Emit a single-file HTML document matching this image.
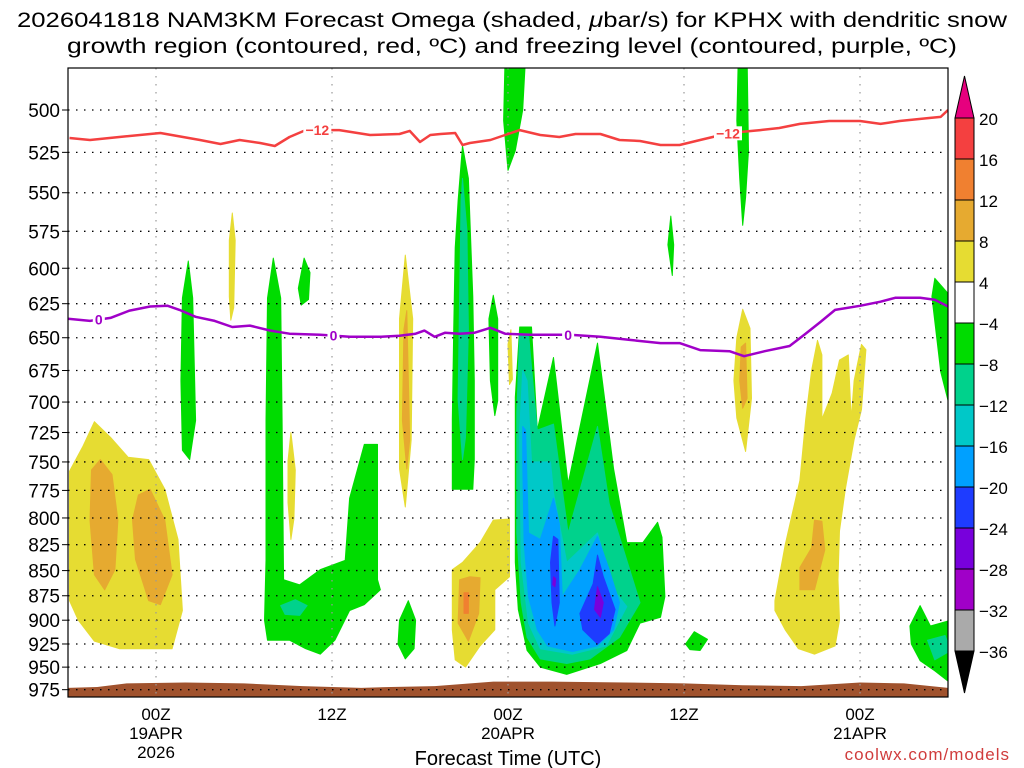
<!DOCTYPE html>
<html><head><meta charset="utf-8"><style>
html,body{margin:0;padding:0;background:#fff;}
svg{display:block;font-family:"Liberation Sans",sans-serif;}
</style></head><body>
<svg id="chart" width="1024" height="768" viewBox="0 0 1024 768">
<g>
<text x="512" y="27" text-anchor="middle" font-size="21" textLength="990" lengthAdjust="spacingAndGlyphs">2026041818 NAM3KM Forecast Omega (shaded, <tspan font-style="italic">μ</tspan>bar/s) for KPHX with dendritic snow</text>
<text x="512" y="53" text-anchor="middle" font-size="21" textLength="890" lengthAdjust="spacingAndGlyphs">growth region (contoured, red, ºC) and freezing level (contoured, purple, ºC)</text>
</g>
<defs><clipPath id="plotclip"><rect x="68" y="68" width="880" height="629"/></clipPath></defs>
<g id="shading" clip-path="url(#plotclip)"></g>
<g id="grid"></g>
<g id="lines" clip-path="url(#plotclip)"></g>
<rect x="68" y="68" width="880" height="629" fill="none" stroke="#000" stroke-width="1.2"/>
<g id="yaxis"></g>
<g id="xaxis"></g>
<text x="508" y="765" text-anchor="middle" font-size="20">Forecast Time (UTC)</text>
<text x="1010" y="760" text-anchor="end" font-size="17" fill="#d03c3c" letter-spacing="1">coolwx.com/models</text>
<g id="cbar"></g>
</svg>
<script>
const levelColors = ["#00dc00","#00d28c","#00c8c8","#00a0ff","#1e3cff","#7800dc","#a000c8","#e6dc32","#e6aa30","#f08030"];
const cbarLabels = ["20","16","12","8","4","−4","−8","−12","−16","−20","−24","−28","−32","−36"];
const cbarColors = ["#f44040","#f08030","#e6aa30","#e6dc32","#ffffff","#00dc00","#00d28c","#00c8c8","#00a0ff","#1e3cff","#7800dc","#a000c8","#aaaaaa"];
const pressureTicks = [500,525,550,575,600,625,650,675,700,725,750,775,800,825,850,875,900,925,950,975];
const timeTickHours = [6,18,30,42,54];
const timeTickLabels = [["00Z","19APR","2026"],["12Z"],["00Z","20APR"],["12Z"],["00Z","21APR"]];

const redHours = [0.1,1.5,3.5,6.3,9.0,10.4,11.7,13.1,14.1,15.1,16.2,18.5,20.6,22.6,23.3,24.0,24.7,25.4,26.4,26.9,27.4,28.8,29.8,30.8,32.2,33.5,34.6,36.3,37.6,39.0,40.4,41.7,43.1,45.1,47.2,48.5,49.9,51.9,54.0,55.4,56.7,58.8,59.5,60];
const redPress = [516.4,517.6,515.8,513.4,517.6,520.0,517.6,519.4,521.2,515.8,511.7,511.7,514.6,514.0,512.2,518.8,514.6,514.0,513.4,520.6,519.4,517.6,514.6,511.7,514.6,515.8,514.0,514.0,517.6,518.2,520.6,520.6,517.6,513.4,511.7,510.5,508.1,506.4,506.4,508.1,506.4,504.6,504.0,500];
const purpleHours = [0,1.5,2.9,4.2,5.6,6.8,7.6,8.7,10.0,11.2,12.4,13.8,15.1,17.2,19.2,21.3,22.6,23.7,24.3,25.0,25.7,26.7,27.7,28.8,29.8,31.5,34.2,36.3,38.3,40.4,41.7,43.1,45.1,46.1,47.5,49.2,50.2,51.3,52.3,54.0,55.4,56.4,58.1,59.1,60];
const purplePress = [636,637.5,635.3,630,627,626.5,629.5,634.5,637.5,642,641,644.7,647,647.8,649.3,649.3,648.5,647,644.7,649.3,646.3,647,646.3,642.6,647,647.8,647.8,649.3,651.6,654,654,659.3,660.2,664,660.2,656.2,647.8,638.3,629.5,626.5,623.6,620.8,620.8,622.2,627];
const redLabelHours = [17.0,45.0];
const purpleLabelHours = [2.1,18.1,34.1];
const surfaceHours = [0,2,4,8,12,16,20,22,25,29,33,38,42,46,50,54,57,60];
const surfacePress = [973,972,968,967,968,971,973,972,971,966,966,967,968,970,971,967,968,973];

const featLeftYellow = [7,[[0.1,758],[1.0,737],[1.8,716],[2.9,729],[4.1,746],[5.5,748],[6.6,774],[7.5,820],[7.8,890],[7.1,930],[3.5,930],[1.8,922],[0.7,900],[0.1,880]]];
const featLeftOrangeA = [8,[[1.6,757],[2.2,748],[3.0,761],[3.4,802],[3.2,849],[2.5,869],[1.8,854],[1.5,802]]];
const featLeftOrangeB = [8,[[4.8,779],[5.6,774],[6.6,802],[7.1,854],[6.3,884],[5.5,880],[4.6,839],[4.4,802]]];
const featYellowThin1 = [7,[[11.0,581],[11.2,563],[11.4,581],[11.3,628],[11.1,637],[11.0,620]]];
const featGreenThin1 = [0,[[7.8,621],[8.2,595],[8.5,621],[8.7,715],[8.3,748],[7.8,740],[7.7,683]]];
const featYellowThin2 = [7,[[15.0,749],[15.2,725],[15.5,757],[15.4,801],[15.2,820],[15.0,786]]];
const featGreen12Z = [0,[[13.6,621],[14.0,593],[14.5,621],[14.6,715],[14.7,859],[15.8,864],[17.2,849],[18.9,840],[19.2,782],[20.2,735],[21.1,735],[21.1,859],[21.3,869],[20.2,884],[19.2,890],[18.2,921],[17.2,936],[16.2,930],[15.1,921],[13.6,921],[13.4,900],[13.5,840],[13.5,715]]];
const featTeal12Z = [1,[[14.5,885],[15.5,879],[16.3,885],[15.8,895],[14.8,894]]];
const featGreenSmall1 = [0,[[15.7,614],[16.1,593],[16.5,603],[16.4,622],[15.9,626]]];
const featGreenSmall2 = [0,[[22.6,900],[23.2,880],[23.7,900],[23.6,930],[23.0,941],[22.5,925]]];
const featYellowThin3 = [7,[[22.6,636],[23.0,591],[23.5,636],[23.4,731],[23.0,790],[22.6,756]]];
const featOrangeThin3 = [8,[[22.9,644],[23.1,630],[23.3,731],[23.1,756],[22.8,715]]];
const featYellow18Z = [7,[[26.2,849],[26.9,842],[28.1,823],[29.0,802],[30.1,801],[30.1,856],[29.1,869],[29.1,910],[28.1,927],[27.1,950],[26.4,942],[26.2,910]]];
const featGold18Z = [8,[[26.7,859],[27.4,856],[28.1,857],[28.0,893],[27.3,922],[26.6,903]]];
const featOrange18Z = [9,[[27.0,872],[27.3,872],[27.3,893],[27.0,893]]];
const featGreenColumn = [0,[[26.6,555],[26.9,521],[27.3,541],[27.6,620],[27.7,683],[27.7,748],[27.6,774],[26.2,774],[26.2,714],[26.3,644],[26.4,586]]];
const featTealColumn = [1,[[26.8,555],[26.9,541],[27.2,574],[27.3,644],[27.1,729],[26.9,748],[26.6,698],[26.7,620]]];
const featGreenThin2 = [0,[[28.7,636],[29.0,619],[29.3,636],[29.3,699],[29.1,711],[28.8,683]]];
const featGreenTop1 = [0,[[29.8,470],[31.2,470],[31.0,500],[30.5,524],[30.0,536],[29.7,506]]];
const featYellowThin4 = [7,[[30.0,655],[30.2,644],[30.3,682],[30.1,686]]];
const featBigGreen = [0,[[30.8,642],[31.6,642],[32.0,723],[33.1,665],[34.1,769],[36.1,654],[37.2,756],[38.1,823],[39.2,823],[40.2,804],[40.5,818],[40.7,876],[40.4,897],[39.0,903],[38.1,932],[36.3,946],[34.0,958],[32.2,950],[31.3,932],[30.7,889],[30.5,842],[30.5,696]]];
const featBigTeal = [1,[[30.8,647],[31.4,647],[32.0,723],[33.1,718],[34.1,814],[36.1,720],[36.9,787],[39.0,882],[37.6,918],[35.6,941],[34.0,946],[32.2,941],[31.3,918],[30.9,882],[30.6,814],[30.6,709]]];
const featBigCyan = [2,[[31.0,675],[31.3,683],[31.6,750],[32.9,750],[33.1,777],[34.0,842],[36.1,814],[37.2,869],[38.1,886],[36.7,927],[34.4,936],[32.2,930],[31.4,903],[30.9,842],[30.8,723]]];
const featBigSky = [3,[[31.0,720],[31.2,723],[31.4,814],[32.2,820],[33.1,782],[33.5,805],[33.7,876],[34.9,849],[36.1,817],[36.9,849],[37.6,882],[37.2,910],[36.1,927],[34.4,933],[32.7,927],[32.0,910],[31.4,876],[31.1,823],[31.0,750]]];
const featBlueA = [4,[[33.1,817],[33.4,820],[33.5,882],[33.2,906],[33.0,882],[32.9,842]]];
const featBlueB = [4,[[36.1,835],[36.5,856],[37.3,889],[36.9,914],[36.1,925],[35.1,910],[34.9,893],[35.8,863]]];
const featPurpleA = [5,[[33.1,856],[33.25,858],[33.2,866],[33.05,864]]];
const featPurpleB = [5,[[36.1,866],[36.5,882],[36.3,897],[35.9,889]]];
const featGreenSmall3 = [0,[[40.9,584],[41.1,565],[41.3,584],[41.2,605]]];
const featGreenSmall4 = [0,[[42.1,925],[42.7,912],[43.6,920],[43.1,932],[42.4,931]]];
const featGreenTop2 = [0,[[45.7,470],[46.3,470],[46.4,524],[46.2,553],[46.0,571],[45.8,541],[45.6,506]]];
const featYellow15Z = [7,[[45.6,650],[46.0,629],[46.5,643],[46.6,697],[46.2,741],[45.6,713],[45.4,683]]];
const featOrange15Z = [8,[[45.9,657],[46.2,654],[46.3,697],[46.0,705],[45.8,683]]];
const featRightYellow = [7,[[48.2,880],[48.9,825],[49.9,766],[50.3,714],[50.7,675],[51.1,652],[51.4,663],[51.4,714],[52.1,693],[52.6,667],[53.2,663],[53.4,714],[53.6,683],[54.1,655],[54.4,659],[54.1,706],[53.6,731],[53.0,774],[52.6,812],[52.5,859],[52.6,900],[52.3,927],[50.9,936],[49.8,930],[48.9,910],[48.2,890]]];
const featRightOrange = [8,[[50.9,802],[51.4,803],[51.6,830],[50.9,869],[49.9,869],[49.9,847],[50.7,828]]];
const featRightGreenTop = [0,[[58.9,620],[59.1,607],[60.2,620],[60.2,708],[59.5,676]]];
const featRightGreenBot = [0,[[57.4,906],[58.1,885],[58.8,906],[60.2,900],[60.2,968],[59.1,954],[58.1,943],[57.5,925]]];
const featRightTeal = [1,[[58.6,921],[59.8,916],[60.2,932],[59.1,942]]];

const features = [featLeftYellow,featLeftOrangeA,featLeftOrangeB,featYellowThin1,featGreenThin1,featYellowThin2,featGreen12Z,featTeal12Z,featGreenSmall1,featGreenSmall2,featYellowThin3,featOrangeThin3,featYellow18Z,featGold18Z,featOrange18Z,featGreenColumn,featTealColumn,featGreenThin2,featGreenTop1,featYellowThin4,featBigGreen,featBigTeal,featBigCyan,featBigSky,featBlueA,featBlueB,featPurpleA,featPurpleB,featGreenSmall3,featGreenSmall4,featGreenTop2,featYellow15Z,featOrange15Z,featRightYellow,featRightOrange,featRightGreenTop,featRightGreenBot,featRightTeal];

const NS = "http://www.w3.org/2000/svg";
const X = h => 68 + h * 880 / 60;
const Y = p => 110 + 868 * Math.log(p / 500);
function mk(tag, attrs, parent){const e=document.createElementNS(NS,tag);for(const k in attrs)e.setAttribute(k,attrs[k]);parent.appendChild(e);return e;}

const shading = document.getElementById("shading");
features.forEach((f,i)=>{
  const d = f[1].map((pt,j)=>(j?"L":"M")+X(pt[0]).toFixed(1)+","+Y(pt[1]).toFixed(1)).join(" ")+"Z";
  const el = mk("path",{d:d,fill:levelColors[f[0]],stroke:levelColors[f[0]],"stroke-width":"1","stroke-linejoin":"round"},shading);
  
  
});
{
  let d = "M"+X(surfaceHours[0])+",700";
  surfaceHours.forEach((h,i)=>{ d += " L"+X(h).toFixed(1)+","+Y(surfacePress[i]).toFixed(1); });
  d += " L"+X(surfaceHours[surfaceHours.length-1])+",700Z";
  const t = mk("path",{d:d,fill:"#a0522d"},shading);
  
  
}

const grid = document.getElementById("grid");
const yaxis = document.getElementById("yaxis");
pressureTicks.forEach(p=>{
  const y = Y(p);
  const gl = mk("line",{x1:68,x2:948,y1:y,y2:y,stroke:"#000","stroke-width":"1.3","stroke-dasharray":"1.5 6.5"},grid);
  
  
  const tk = mk("line",{x1:62,x2:68,y1:y,y2:y,stroke:"#000","stroke-width":"1"},yaxis);
  
  
  const tx = mk("text",{x:60,y:y+7,"text-anchor":"end","font-size":"19"},yaxis);
  tx.textContent = p;
  
  
});
const xaxis = document.getElementById("xaxis");
timeTickHours.forEach((h,i)=>{
  const x = X(h);
  const gl = mk("line",{x1:x,x2:x,y1:68,y2:697,stroke:"#999","stroke-width":"1.2","stroke-dasharray":"1.5 6.5"},grid);
  
  
  timeTickLabels[i].forEach((s,j)=>{
    const tx = mk("text",{x:x,y:720+j*19,"text-anchor":"middle","font-size":"17"},xaxis);
    tx.textContent = s;
    
    
  });
});

const lines = document.getElementById("lines");
function contour(hours, press, color, name){
  const d = hours.map((h,i)=>(i?"L":"M")+X(h).toFixed(1)+","+Y(press[i]).toFixed(1)).join(" ");
  const el = mk("path",{d:d,fill:"none",stroke:color,"stroke-width":"2.5","stroke-linejoin":"round"},lines);
  
  
}
function interp(hours, press, h){
  for(let i=1;i<hours.length;i++){ if(h<=hours[i]){const t=(h-hours[i-1])/(hours[i]-hours[i-1]);return press[i-1]+t*(press[i]-press[i-1]);} }
  return press[press.length-1];
}
function label(h,p,text,color){
  const x=X(h), y=Y(p);
  const w = text.length*8+4;
  const r = mk("rect",{x:x-w/2,y:y-7,width:w,height:14,fill:"#fff"},lines);
  
  
  const t = mk("text",{x:x,y:y+5,"text-anchor":"middle","font-size":"14","font-weight":"bold",fill:color},lines);
  t.textContent = text;
  
  
}
contour(redHours, redPress, "#f44040", "dgz-minus12-contour");
contour(purpleHours, purplePress, "#a000c8", "freezing-level-contour");
redLabelHours.forEach(h=>label(h, interp(redHours,redPress,h), "−12", "#f44040"));
purpleLabelHours.forEach(h=>label(h, interp(purpleHours,purplePress,h), "0", "#a000c8"));

const cbar = document.getElementById("cbar");
const cbX=955, cbW=19, cbTop=118, cbStep=41;
{
  const t = mk("polygon",{points:`${cbX},${cbTop} ${cbX+cbW},${cbTop} ${cbX+cbW/2},${cbTop-42}`,fill:"#e6007e",stroke:"#000","stroke-width":"1"},cbar);
  
  
}
cbarColors.forEach((c,i)=>{
  const r = mk("rect",{x:cbX,y:cbTop+i*cbStep,width:cbW,height:cbStep,fill:c,stroke:"#000","stroke-width":"1"},cbar);
  
  
});
{
  const b = cbTop+cbarColors.length*cbStep;
  const t = mk("polygon",{points:`${cbX},${b} ${cbX+cbW},${b} ${cbX+cbW/2},${b+42}`,fill:"#000",stroke:"#000","stroke-width":"1"},cbar);
  
  
}
cbarLabels.forEach((s,i)=>{
  const t = mk("text",{x:979,y:cbTop+i*cbStep+7,"font-size":"17"},cbar);
  t.textContent = s;
  
  
});
</script>
</body></html>
